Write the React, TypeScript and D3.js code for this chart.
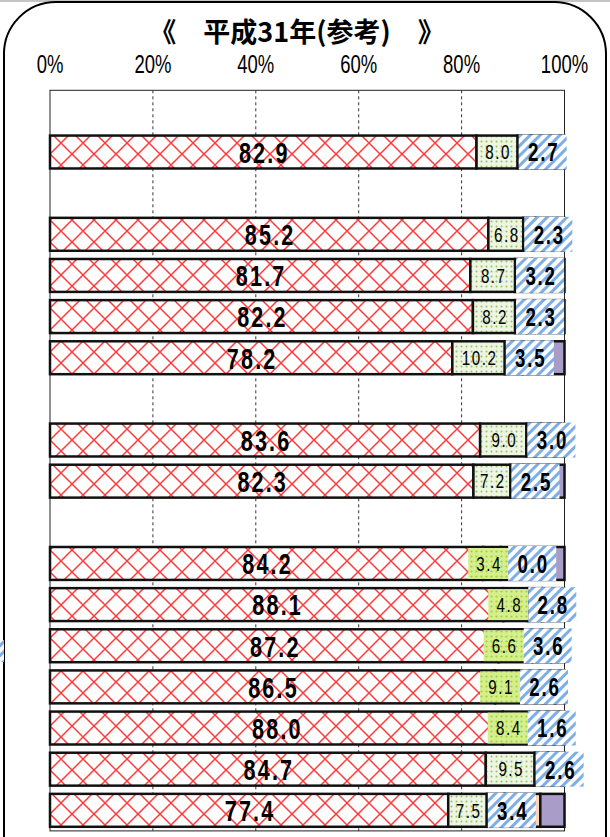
import React from "react";
import * as d3 from "d3";

// row slots of the chart (blank slots are the gaps between groups)
const rowKeys = [
  "blank0", "row1", "blank1", "row2", "row3", "row4", "row5", "blank2",
  "row6", "row7", "blank3", "row8", "row9", "row10", "row11", "row12", "row13", "row14",
];
const barKeys = rowKeys.filter((k) => k.startsWith("row"));

const redValues = [82.9, 85.2, 81.7, 82.2, 78.2, 83.6, 82.3, 84.2, 88.1, 87.2, 86.5, 88.0, 84.7, 77.4];
const greenValues = [8.0, 6.8, 8.7, 8.2, 10.2, 9.0, 7.2, 3.4, 4.8, 6.6, 9.1, 8.4, 9.5, 7.5];
const blueValues = [2.7, 2.3, 3.2, 2.3, 3.5, 3.0, 2.5, 0.0, 2.8, 3.6, 2.6, 1.6, 2.6, 3.4];
const orangeValues = [0, 0, 0, 0, 0, 0, 0, 0, 0, 0, 0, 0, 0, 7.0];

const xTicks = [0, 20, 40, 60, 80, 100];
const titleText = "《　平成31年(参考)　》";

// rows whose small label was dragged off the bar into its own box
const boxedLabelRows = ["row8", "row9", "row10", "row11", "row12"];

const W = 610;
const H = 837;
const plot = { left: 50, right: 564.5, top: 90.3, bottom: 830.9 };
const sans = "'Liberation Sans', Arial, sans-serif";

const keys = ["red", "green", "blue", "orange", "purple"];
const fills: Record<string, string> = {
  red: "url(#pRed)",
  green: "url(#pGreen)",
  blue: "url(#pBlue)",
  orange: "#fbd4b4",
  purple: "#a99cc8",
};

// condensed text (the original uses a narrow gothic face)
function CText({ x, y, size, bold = false, sx = 0.8, ls = 0, children }: any) {
  return (
    <text
      transform={`translate(${x},${y}) scale(${sx},1)`}
      textAnchor="middle"
      dy="0.36em"
      fontFamily={sans}
      fontWeight={bold ? "bold" : "normal"}
      fontSize={size}
      letterSpacing={ls}
    >
      {children}
    </text>
  );
}

export default function App() {
  const table = barKeys.map((k, i) => {
    const sum = redValues[i] + greenValues[i] + blueValues[i] + orangeValues[i];
    return {
      key: k,
      red: redValues[i],
      green: greenValues[i],
      blue: blueValues[i],
      orange: orangeValues[i],
      purple: Math.max(0, 100 - sum),
    };
  });

  const x = d3.scaleLinear().domain([0, 100]).range([plot.left, plot.right]);
  const y = d3
    .scaleBand<string>()
    .domain(rowKeys)
    .range([plot.top, plot.bottom])
    .paddingInner(0.2)
    .paddingOuter(0.1);
  const bw = y.bandwidth();

  const series = d3.stack<any>().keys(keys)(table);

  // label boxes
  const boxes = table.map((d) => {
    const boxed = boxedLabelRows.includes(d.key);
    const g0 = boxed ? x(d.red) - 15 : x(d.red);
    const g1 = boxed ? x(d.red) + 25 : x(d.red + d.green);
    const b0 = boxed ? g1 : g1 + 1;
    return { d, boxed, g0, g1, b0, b1: b0 + 48, yy: y(d.key) as number };
  });

  return (
    <svg
      width={W}
      height={H}
      style={{ position: "absolute", left: 0, top: 0, background: "#fff" }}
    >
      <defs>
        <pattern id="pRed" width="22" height="22" patternUnits="userSpaceOnUse" x={plot.left} y="0">
          <rect width="22" height="22" fill="#fff" />
          <path d="M0,0L22,22M22,0L0,22" stroke="#ff3a3a" strokeWidth="1.5" />
        </pattern>
        <pattern id="pGreen" width="5" height="5" patternUnits="userSpaceOnUse">
          <rect width="5" height="5" fill="#eef5e3" />
          <circle cx="1.5" cy="1.5" r="1" fill="#93c464" />
        </pattern>
        <pattern id="pGreenVivid" width="5" height="5" patternUnits="userSpaceOnUse">
          <rect width="5" height="5" fill="#d6ef8e" />
          <circle cx="1.5" cy="1.5" r="1.1" fill="#a0d23c" />
        </pattern>
        <pattern
          id="pBlue"
          width="7"
          height="7"
          patternUnits="userSpaceOnUse"
          patternTransform="rotate(45)"
        >
          <rect width="7" height="7" fill="#fff" />
          <rect width="3" height="7" fill="#7eaee6" />
        </pattern>
      </defs>

      {/* page line and rounded frame */}
      <line x1={0} x2={W} y1={1} y2={1} stroke="#c4c4c4" strokeWidth={2} />
      <path
        d={`M4,${H} L4,55 A52,52 0 0 1 56,2 L554,2 A52,52 0 0 1 606,54 L606,${H}`}
        fill="none"
        stroke="#000"
        strokeWidth={2}
      />
      <rect x={0} y={640} width={4} height={22} fill="url(#pBlue)" />

      <text
        x={297}
        y={42}
        textAnchor="middle"
        fontFamily="'Noto Sans CJK JP', sans-serif"
        fontWeight="bold"
        fontSize={27}
      >
        {titleText}
      </text>

      {/* axis labels */}
      {xTicks.map((t) => (
        <CText key={t} x={x(t)} y={64} size={25} sx={0.74}>
          {t}%
        </CText>
      ))}

      {/* grid */}
      <rect
        x={plot.left}
        y={plot.top}
        width={plot.right - plot.left}
        height={plot.bottom - plot.top}
        fill="none"
        stroke="#222"
        strokeWidth={1}
      />
      {xTicks
        .filter((t) => t > 0 && t < 100)
        .map((t) => (
          <line
            key={t}
            x1={x(t)}
            x2={x(t)}
            y1={plot.top}
            y2={plot.bottom}
            stroke="#333"
            strokeWidth={1}
            strokeDasharray="3,3"
          />
        ))}

      {/* stacked segments */}
      {series.map((s) => (
        <g key={s.key}>
          {s.map((seg: any) =>
            seg[1] - seg[0] > 0 ? (
              <rect
                key={seg.data.key}
                x={x(seg[0])}
                y={y(seg.data.key)}
                width={x(seg[1]) - x(seg[0])}
                height={bw}
                fill={fills[s.key]}
                stroke="#111"
                strokeWidth={2.5}
              />
            ) : null
          )}
        </g>
      ))}

      {/* label boxes */}
      {boxes.map((b) => (
        <g key={b.d.key}>
          {b.boxed && (
            <rect x={b.g0} y={b.yy + 1} width={b.g1 - b.g0} height={bw - 2} fill="url(#pGreenVivid)" />
          )}
          <rect x={b.b0} y={b.yy - 1} width={b.b1 - b.b0} height={bw + 2} fill="url(#pBlue)" />
        </g>
      ))}

      {/* labels */}
      {boxes.map((b) => {
        const cy = b.yy + bw / 2;
        return (
          <g key={b.d.key} fill="#000">
            <CText x={(x(0) + x(b.d.red)) / 2 + 1} y={cy} size={30} bold sx={0.72} ls={3}>
              {b.d.red.toFixed(1)}
            </CText>
            <CText x={(b.g0 + b.g1) / 2 + 1} y={cy} size={20} sx={0.76} ls={2}>
              {b.d.green.toFixed(1)}
            </CText>
            <CText x={(b.b0 + b.b1) / 2 + 1} y={cy} size={26} bold sx={0.72} ls={2.5}>
              {b.d.blue.toFixed(1)}
            </CText>
          </g>
        );
      })}
    </svg>
  );
}
